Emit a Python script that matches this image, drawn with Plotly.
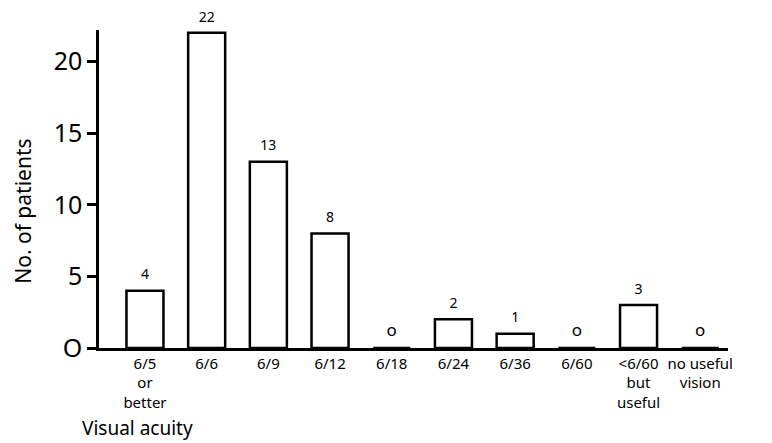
import plotly.graph_objects as go

categories = ["6/5<br>or<br>better", "6/6", "6/9", "6/12", "6/18", "6/24", "6/36",
              "6/60", "<6/60<br>but<br>useful", "no useful<br>vision"]
patients = [4, 22, 13, 8, 0, 2, 1, 0, 3, 0]
value_labels = ["4", "22", "13", "8", "o", "2", "1", "o", "3", "o"]
y_ticks = [0, 5, 10, 15, 20]
y_tick_labels = ["O", "5", "10", "15", "20"]

FONT = "Noto Sans"
label_sizes = [17 if v == 0 else 14 for v in patients]

fig = go.Figure()
fig.add_trace(go.Bar(
    x=categories, y=patients,
    marker=dict(color="white", line=dict(color="black", width=2.5)),
    width=0.6, showlegend=False, hoverinfo="skip",
))
fig.add_trace(go.Scatter(
    x=categories, y=patients, mode="markers+text", text=value_labels,
    textposition="top center",
    marker=dict(size=11, color="rgba(0,0,0,0)"),
    textfont=dict(family=FONT, size=label_sizes, color="black"),
    showlegend=False, hoverinfo="skip", cliponaxis=False,
))

fig.update_layout(
    width=772, height=443,
    margin=dict(l=91, r=52, t=22, b=103),
    plot_bgcolor="white", paper_bgcolor="white",
    font=dict(family=FONT, color="black"),
    xaxis=dict(
        automargin=False,
        showline=True, linecolor="black", linewidth=2.5,
        ticks="", showgrid=False, zeroline=False,
        tickfont=dict(family=FONT, size=15, color="black"),
        range=[-0.745, 9.45],
    ),
    yaxis=dict(
        automargin=False,
        range=[0, 22.2], showline=True, linecolor="black", linewidth=2.5,
        ticks="outside", ticklen=9, tickwidth=2.5, tickcolor="black",
        tickvals=y_ticks, ticktext=y_tick_labels,
        tickfont=dict(family=FONT, size=25, color="black"),
        showgrid=False, zeroline=False,
    ),
    annotations=[
        dict(text="Visual acuity", xref="paper", yref="paper", x=-0.03, y=-0.25,
             xanchor="left", yanchor="middle", showarrow=False,
             font=dict(family=FONT, size=19, color="black")),
        dict(text="No. of patients", xref="paper", yref="paper", x=-0.12, y=0.43,
             xanchor="center", yanchor="middle", textangle=-90, showarrow=False,
             font=dict(family=FONT, size=21, color="black")),
    ],
)

fig.write_html("out.html")
